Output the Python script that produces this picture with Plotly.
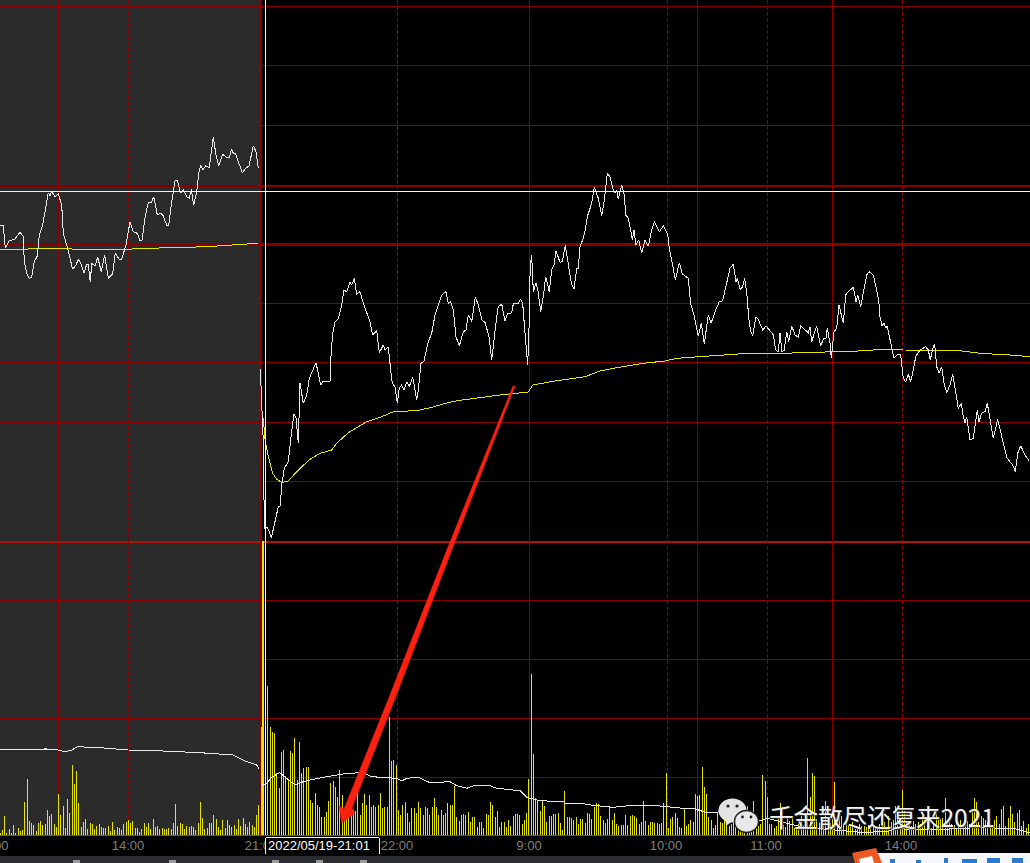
import plotly.graph_objects as go

# session-1 last-price curve (time axis, price level on a top-down scale)
price_a_t = [0,3.3,5.3,9.3,15,20,23.3,24.3,26.7,29.3,31.7,34.3,37.3,39.3,42.7,45,48.3,50,51.7,55,58.3,61.7,63.3,66.7,69.3,72.7,76,78.3,80.7,84,86.7,88.3,90.3,91.7,95,97.7,101.3,104.7,108.3,112.7,115.3,119.3,121.7,126,130,133.3,137.3,140,142,144,145.3,148.3,151.7,153.7,157.3,160.7,163.3,166.7,168.7,171,175,177.3,180.7,183.3,187.3,189.3,191.3,193.7,196.7,198.7,200.7,202.7,205.7,209.3,213.3,215.7,218.7,222.7,226.7,229.3,231.7,233.3,235.3,238.3,242.3,245.7,249,253.3,256,258.3]
price_a = [225,225.3,248.3,240.7,239,232.3,236.7,261.7,273.3,278.3,277.3,261.7,256,235,225,213.3,192.7,196,191.3,196.7,194,205,233.3,245,256.7,269.3,265,259.3,263.3,273.3,264.3,264.3,282.3,263.3,266,257.3,271.7,255,278.3,274,253.3,259.3,259,245,221.7,231.7,233.3,241,240,222.7,216,202.7,202,196.7,215,213,216,225.3,225.3,206.7,180.7,180.7,193.3,189.3,197.3,198,189.3,205.3,191.7,173.3,165,170,166,167.7,136.7,153.3,166,154.3,157.3,157.3,149,153.3,153.3,161.7,172.7,168.3,166,145.7,151.7,168.3]

price_b_t = [260.3,261.7,263.3,264,265,267.3,269.3,271.3,274,276,278.3,280,282,284.3,288.3,291,294,296,298.3,300,301.7,303.3,306.7,309.3,316,320.7,322.7,330,330.7,332.7,335,338.3,341.7,344,346.7,350,351.7,354.3,356.7,360,363.3,366.7,370,372.7,376.7,379.3,383.3,385,388.3,391.7,393.3,395,397.3,399.3,
 401.7,404,406.7,409.3,412.7,416.7,418.3,421,424,428.3,431.7,435,440,441.7,446,448.3,450.7,453.3,456,459.3,463.3,466,468.3,471.7,475.3,478.3,482.3,485,489,491.7,496.7,498.3,501.7,505,507.3,511.7,513.3,518.3,520.7,522.7,525,527.7,529.3,530,531.3,532.3,533.3,536,538,540.7,543.3,545.7,549.3,551.7,554,556,560,562.3,565.3,568.3,571.3,574,576.7,578.3,580,583.3,585.3,587.3,591.7,594.3,598.3,601.7,604.3,607.3,610,613.3,615,616.7,618.3,621.7,624.3,625.7,628.3,630.7,632.3,634,636,638.7,641.7,645,648.3,651.7,654.3,659.3,663.3,667.7,669.3,671.7,675.3,679.3,682.3,688.3,690.7,694,698.3,701.3,704.3,708.3,711,715.7,
 719.3,722.7,726,730,733.3,736,737.3,740,742.3,744.7,747.3,748.7,750.7,752.7,755.7,757.7,762.7,766,770,773.3,775.7,778.3,780,782,784,786.7,788.7,791.7,795,798.3,800.7,804,808.3,810,811.7,816.7,820.7,823.3,826,827.3,830,831.3,834,836.7,839,843.3,845.7,848.3,853.3,856,857.7,860.7,863.3,866.7,869.3,873.3,876.7,878.7,880,882,884,885.7,887.3,890,894,898.3,900.7,903.3,905.7,908.3,910.7,913.3,915.7,920,925.7,928.3,930.3,932.7,934.7,936.7,939.3,941.7,944,946.7,950,952.7,955.3,958.3,961.3,963.3,965,966.7,970,973.3,977.3,979,981.7,985,987.3,989.3,993.3,997.7,1002.7,1006.7,1010,1012.7,1015.3,1017.7,1020.7,1025,1029]
price_b = [369.3,403.3,441.7,500,528.3,527.3,531.7,538.3,525,516.7,506.7,506,483.3,468.3,461.7,436.7,414,418.3,442.7,383.3,391.7,403.3,395,378.3,362.7,385,381.7,381.7,360,333.3,321.7,319,305,290,291.7,281.7,285,278.3,294,291.7,303.3,313.3,321.7,335,330.7,352.7,345,350,346.7,380,385,386.7,403.3,388.3,
 385,390,381.7,386.7,376.7,400,390,363.3,361,341.7,333.3,315,298.3,295,291.7,303.3,301.7,310,336.7,346,331.7,330,315,321.7,296.7,305,320.7,322.3,336.7,360,316.7,306.7,304,320.7,314,312.7,304,303.3,299,303.3,333.3,365,320,276.7,255,266.7,291.7,283.3,290.7,311.7,296.7,276.7,291.7,270,265,250.7,262.3,261.7,245,263.3,283.3,289.3,268.3,268.3,246.7,238.3,230,216.7,203.3,187.3,198.3,216,200,173.3,176.7,190,193.3,190,199.3,185,195,215,218.3,230,240,230,245,240,253.3,240,246,230,221.7,231.7,226,234,248.3,260,280,262.7,274,278.3,304,315,336,323.3,344,315,323.3,310,
 301.7,300.7,286.7,268.3,264,281.7,278.3,289.3,287.3,278.3,298.3,318.3,331.7,335.7,317.3,318.3,330,326,330.7,335,350,351.7,333.3,351.7,350.7,331.7,341.7,326,335,337.3,326,329.3,332.7,327.3,341.7,326,346,339,338.3,328.3,343.3,358.3,331.7,328.3,305,323.3,295,291.7,287.3,301.7,295,306.7,291.7,275,271.7,275,290,300,316.7,326,323.3,327.3,326.7,340,358.3,354,355,378.3,381.7,374.3,381.7,370,356.7,350,346.7,350,360,348.3,344,366.7,373.3,366.7,383.3,392.7,385,374,390,408.3,403.3,416.7,422.7,416.7,440,438.3,410,421.7,413.3,411.7,403.3,415,438.3,419.3,441.7,457.3,461.7,465,471.7,453.3,445.7,455,460.7]

# average-price curves
avg_a_t = [0,58,86,125,148,182,207,242,258]
avg_a = [249.3,248.7,249.3,249.3,248.3,247.7,246.7,244.3,243.3]
avg_b_t = [263.3,265,268.3,272.7,276.7,281.7,287.3,295,301.7,310,320,331.7,336.7,348.3,366.7,381.7,395,400,420,433,443,457,477,500,528.3,532.7,556.7,585,600,616.7,643.3,665,676.7,700,733,748,781.7,830,858,883,903,956.7,980,1010,1030]
avg_b = [418.3,439.3,456.7,473.3,479.3,482.3,481.7,473.3,466.7,459.3,453.3,450,443.3,432.7,421.7,416.7,411,411.7,410,407,404,400.7,398,395,392,385,380.7,376.7,371,367.7,363.3,361,358.3,356.7,354.7,353.3,353.3,352.3,351,349.3,350,350.3,353.3,355,356.7]

# lower-panel white ratio curve
ratio_a_t = [0,30,46.7,58.3,65,71.7,77.3,100,128.3,156.7,200,233.3,246.7,256.7,259.3]
ratio_a = [749.3,749,749,750,751.7,750,746.7,747.7,750,750.7,752.7,755,761.7,765,769.3]
ratio_b_t = [260.7,266.7,271.7,279.3,286.7,295,303.3,310,326.7,346.7,363.3,371.7,396.7,401.7,406.7,418.3,430,450,456.7,466.7,473.3,490,496.7,510,520,526.7,536.7,546.7,563.3,566.7,580,593.3,613.3,633.3,660,683.3,693.3,706.7,723.3,740,756.7,766.7,786.7,803.3,843.3,860,886.7,896.7,913.3,943.3,976.7,993.3,1013.3,1030]
ratio_b = [785.7,783.3,777.3,772.7,778.3,785,781.7,780,776.7,773.3,772.7,776.7,778.3,781,778.3,777.3,782.7,781.7,785.7,788.3,786,785.7,788.3,789.3,790.7,797.3,800,801,801.7,804,803.3,805.3,807.3,805.3,806,808.3,808.3,812.7,811.7,818.3,821.7,818.3,823.3,827.3,830.7,832.3,831.7,828.3,830,829.3,827.7,828.3,828.3,832.7]

# volume per minute
volume = [3,6,20,3,7,3,11,3,8,5,6,34,57,15,13,11,5,13,15,11,12,26,20,22,12,9,42,21,30,8,37,23,71,52,65,33,9,14,17,7,13,12,7,10,12,9,8,8,10,5,14,6,9,8,6,12,14,16,13,15,8,8,4,7,13,9,13,7,17,9,10,7,8,7,7,8,7,13,32,10,13,12,7,10,9,10,9,6,13,34,18,7,8,13,13,21,17,9,6,16,8,16,11,9,11,7,17,10,18,12,9,14,11,9,21,31,
 109,295,190,150,109,104,103,63,48,84,86,60,56,85,83,98,56,94,63,68,69,69,36,33,43,31,29,19,19,24,35,53,55,49,39,66,41,22,30,30,25,26,25,46,21,33,42,31,41,29,31,29,31,43,28,29,29,119,75,76,71,26,21,31,34,23,14,28,28,23,34,28,21,29,28,21,29,38,29,21,26,21,23,33,31,31,50,19,15,21,22,21,24,14,19,19,9,14,14,8,22,21,34,31,19,25,9,14,14,9,16,10,20,22,
 22,21,12,16,23,57,162,82,38,36,25,35,30,14,20,20,22,22,23,13,6,45,19,19,18,16,19,12,17,17,13,23,22,17,29,33,32,20,16,13,17,29,16,23,12,10,11,11,21,11,20,21,20,18,12,14,35,15,11,14,14,13,13,12,13,33,63,8,17,19,23,18,9,8,28,10,12,16,14,42,40,41,69,49,42,19,16,8,11,23,14,13,22,11,10,12,15,20,18,14,15,22,30,24,17,35,8,10,12,61,55,39,12,12,8,10,20,33,11,9,20,15,20,8,8,12,20,10,15,78,39,63,60,17,13,14,12,35,12,13,17,54,12,25,20,12,17,10,12,14,7,8,12,10,10,9,11,8,10,9,8,12,14,14,8,20,14,16,30,20,17,46,25,14,14,10,15,12,14,12,20,16,14,14,8,14,22,18,17,18,38,16,14,12,11,8,14,16,12,13,15,12,25,38,34,14,20,18,16,14,8,11,16,20,12,27,30,10,18,30,22,14,23,26,10,15,8,12]

tick_labels = ["14:00", "21:00", "22:00", "9:00", "10:00", "11:00", "14:00", "15:00"]
tick_pos = [128, 261, 397, 529, 666, 766, 901, 1030]
cursor_label = "2022/05/19-21:01"
watermark = "千金散尽还复来2021"

H_PLOT = 836
MINUTE = 2.25
RED = "#8a0000"
WHITE = "#e8e8e8"
YEL = "rgba(232,232,0,0.99)"
YEL_LINE = "#e6e600"

fig = go.Figure()
fig.add_trace(go.Bar(x=[MINUTE * i for i in range(len(volume))], y=[-v for v in volume],
                     base=H_PLOT, width=[2.0 if v > 200 else 1.0 for v in volume],
                     marker=dict(color=YEL, line_width=0), showlegend=False))
for t, v, c in [(ratio_a_t, ratio_a, WHITE), (ratio_b_t, ratio_b, WHITE),
                (avg_a_t, avg_a, YEL_LINE), (avg_b_t, avg_b, YEL_LINE),
                (price_a_t, price_a, WHITE), (price_b_t, price_b, WHITE)]:
    fig.add_trace(go.Scatter(x=t, y=v, mode="lines", line=dict(color=c, width=1), showlegend=False))

shapes = [dict(type="rect", xref="x", yref="y", x0=0, x1=260, y0=0, y1=H_PLOT,
               fillcolor="#2b2b2b", line_width=0, layer="below")]
for y, w, c in [(6, 1, RED), (65, 1, RED), (125, 1, RED), (185, 2, RED), (244, 3, RED), (303, 1, RED),
                (362, 1, RED), (422, 1, RED), (481, 1, RED), (541, 2, "#b01400"), (600, 1, RED),
                (659, 1, RED), (718, 1, RED), (777, 1, RED)]:
    shapes.append(dict(type="line", xref="x", yref="y", x0=0, x1=1030, y0=y + 0.5, y1=y + 0.5,
                       line=dict(color=c, width=w), layer="below"))
for x, dash, w in [(58, "solid", 1), (128, "dash", 1), (260, "solid", 2), (397, "dash", 1), (529, "solid", 1),
                   (667, "dash", 1), (697, "solid", 1), (767, "dash", 1), (832, "solid", 1), (902, "dash", 1)]:
    shapes.append(dict(type="line", xref="x", yref="y", x0=x + 0.5, x1=x + 0.5, y0=0, y1=H_PLOT,
                       line=dict(color=RED, width=w, dash="solid" if dash == "solid" else "4px,2px"), layer="below"))
# crosshair and baseline
shapes += [
    dict(type="line", xref="x", yref="y", x0=0, x1=1030, y0=191.5, y1=191.5, line=dict(color="#f2f2f2", width=1)),
    dict(type="line", xref="x", yref="y", x0=265.5, x1=265.5, y0=0, y1=H_PLOT, line=dict(color="#f8f8f8", width=1)),
    dict(type="line", xref="x", yref="y", x0=0, x1=1030, y0=836, y1=836, line=dict(color="#e02000", width=2)),
]
# red arrow
shapes.append(dict(type="path", xref="x", yref="y", fillcolor="#fc2010", line=dict(color="#fc2010", width=0.5),
                   path="M 515,386 L 451.8,550 L 394.5,700 L 352,808 L 355,813 L 341.7,823 L 339,806 L 344,809 L 388,700 L 446.8,550 L 513,386 Z"))
# WeChat watermark icon
def ell(cx, cy, rx, ry, fill, lc=None):
    return dict(type="circle", xref="x", yref="y", x0=cx-rx, x1=cx+rx, y0=cy-ry, y1=cy+ry,
                fillcolor=fill, line=dict(color=lc or fill, width=1.5 if lc else 0))
shapes.append(dict(type="path", xref="x", yref="y", fillcolor="#e4e4e4", line_width=0,
                   path="M 725,818 L 726,826 L 734,820 Z"))
shapes += [ell(732.5, 810.5, 14, 12, "#e4e4e4"), ell(728, 806, 1.6, 1.6, "#222"), ell(737, 806, 1.6, 1.6, "#222"),
           ell(746.5, 821.5, 12, 11, "#e8e8e8", "#222"), ell(742.5, 817, 1.4, 1.4, "#222"), ell(751, 817, 1.4, 1.4, "#222")]
# cursor box and bottom strip (paper coordinates: below the plot)
def py(v):
    return (H_PLOT - v) / H_PLOT
def rect(x0, x1, y0, y1, fill):
    return dict(type="rect", xref="x", yref="paper", x0=x0, x1=x1, y0=py(y1), y1=py(y0), fillcolor=fill, line_width=0)
def pline(x0, x1, y0, y1):
    return dict(type="line", xref="x", yref="paper", x0=x0, x1=x1, y0=py(y0), y1=py(y1), line=dict(color="#f0f0f0", width=1))
shapes += [rect(265.5, 379, 838, 854, "#000000"), pline(265.5, 265.5, 837.5, 854), pline(379, 379, 837.5, 854), pline(265.5, 379, 837.5, 837.5)]
shapes += [rect(0, 1030, 856, 863, "#2a2c30")]
for x0 in [73, 169, 272, 316, 360]:
    shapes.append(rect(x0, x0+7, 860, 863, "#9a9a9a"))
shapes += [rect(878, 1030, 853, 863, "#f4f6fa")]
shapes.append(dict(type="path", xref="x", yref="paper", fillcolor="#ef5a24", line_width=0,
                   path=f"M 852,{py(853)} L 876,{py(848)} L 882,{py(863)} L 855,{py(863)} Z"))
shapes.append(dict(type="path", xref="x", yref="paper", fillcolor="#ffffff", line_width=0,
                   path=f"M 859,{py(859)} L 872,{py(856)} L 874,{py(863)} L 860,{py(863)} Z"))
for x0, x1, y0 in [(890, 895, 859), (916, 921, 860), (944, 948, 858), (962, 977, 859), (987, 1000, 858), (1012, 1023, 858)]:
    shapes.append(rect(x0, x1, y0, 863, "#2a7ad0"))

annotations = [
    dict(x=9.5, y=py(845), xref="x", yref="paper", text="00", showarrow=False, xanchor="right", yanchor="middle",
         font=dict(family="Liberation Sans", size=13, color="#7f7f7f")),
    dict(x=266, y=py(845.5), xref="x", yref="paper", text=cursor_label, showarrow=False, xanchor="left", yanchor="middle",
         font=dict(family="Liberation Sans", size=13, color="#ffffff")),
    dict(x=767, y=816, xref="x", yref="y", text=watermark, showarrow=False, xanchor="left", yanchor="middle",
         font=dict(family="Noto Sans CJK SC", size=24.5, color="#f4f4f4", shadow="1px 1px 1px #333")),
]

fig.update_layout(
    width=1030, height=863, margin=dict(l=0, r=0, t=0, b=863 - H_PLOT),
    paper_bgcolor="#000000", plot_bgcolor="#000000", showlegend=False,
    bargap=0, shapes=shapes, annotations=annotations,
    xaxis=dict(range=[0, 1030], showgrid=False, zeroline=False, showline=False, ticks="",
               tickmode="array", tickvals=tick_pos, ticktext=tick_labels,
               tickfont=dict(family="Liberation Sans", size=13, color="#7f7f7f"), automargin=False),
    yaxis=dict(range=[H_PLOT, 0], showgrid=False, zeroline=False, showticklabels=False, ticks="", automargin=False),
)
post = """
document.body.style.margin='0';document.body.style.background='#000';document.body.style.overflow='hidden';
document.querySelectorAll('.scatterlayer path.js-line').forEach(p=>{p.style.shapeRendering='crispEdges';});
document.querySelectorAll('.shapelayer path').forEach(p=>{
  const d=p.getAttribute('d')||''; if(/^M[^L]*L[^LZ]*$/.test(d)) p.style.shapeRendering='crispEdges';
});
"""
fig.write_html("out.html", config=dict(displayModeBar=False), post_script=post)
